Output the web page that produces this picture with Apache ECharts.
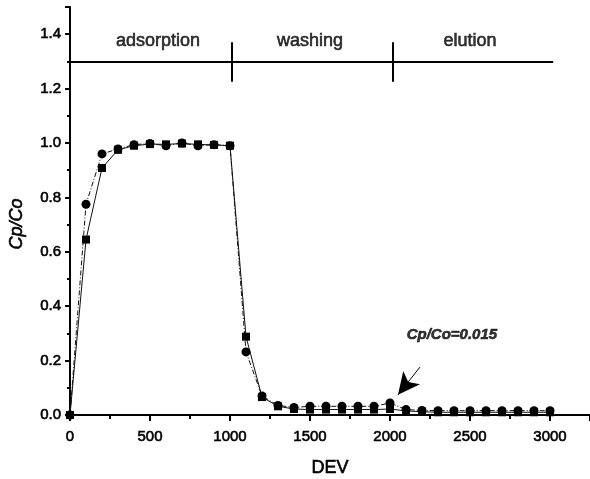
<!DOCTYPE html>
<html>
<head>
<meta charset="utf-8">
<script src="https://cdn.jsdelivr.net/npm/echarts@6/dist/echarts.min.js"></script>
<style>html,body{margin:0;padding:0;background:#fff;}#c{width:590px;height:479px;}</style>
</head>
<body>
<div id="c"></div>
<script>
var xValues = [0,100,200,300,400,500,600,700,800,900,1000,1100,1200,1300,1400,1500,1600,1700,1800,1900,2000,2100,2200,2300,2400,2500,2600,2700,2800,2900,3000];
var squareValues = [0,0.645,0.908,0.975,0.99,0.996,0.995,0.998,0.995,0.993,0.99,0.288,0.066,0.032,0.022,0.02,0.02,0.02,0.02,0.02,0.022,0.015,0.012,0.01,0.01,0.01,0.01,0.01,0.01,0.01,0.01];
var circleValues = [0,0.775,0.96,0.978,0.994,0.998,0.99,1.0,0.99,0.994,0.99,0.232,0.07,0.035,0.028,0.032,0.032,0.032,0.032,0.032,0.044,0.02,0.017,0.016,0.016,0.016,0.016,0.016,0.016,0.016,0.016];
var phaseLabels = ['adsorption','washing','elution'];
var phaseX = [550,1500,2500];
var phaseLabelY = 1.375;
var phaseLineY = 1.3;
var phaseLineEnd = 3020;
var phaseBounds = [1012,2018];
var phaseTickRange = [1.225,1.37];
var noteText = 'Cp/Co=0.015';
var notePos = [2387,0.294];
var arrowFrom = [2187,0.176];
var arrowTo = [2050,0.074];

function pairs(ys){ return xValues.map(function(x,i){ return [x, ys[i]]; }); }

var chart = echarts.init(document.getElementById('c'));
var font = 'Liberation Sans, Arial, sans-serif';
var thick = {textBorderColor:'#000',textBorderWidth:0.6};
var markLineData = [
  [{coord:[0,phaseLineY]},{coord:[phaseLineEnd,phaseLineY]}]
].concat(phaseBounds.map(function(b){ return [{coord:[b,phaseTickRange[0]]},{coord:[b,phaseTickRange[1]]}]; }));

chart.setOption({
  animation:false,
  grid:{left:70,right:0,top:7,bottom:64,outerBoundsMode:'none'},
  xAxis:{
    type:'value',min:0,max:3250,interval:500,
    name:'DEV',nameLocation:'middle',nameGap:44,
    nameTextStyle:Object.assign({fontFamily:font,fontSize:18,color:'#000'},thick),
    axisLine:{lineStyle:{color:'#000',width:2}},
    axisTick:{length:6,lineStyle:{color:'#000',width:2}},
    minorTick:{show:true,splitNumber:2,length:4,lineStyle:{color:'#000',width:2}},
    axisLabel:Object.assign({margin:14,fontFamily:font,fontSize:15,color:'#000',
      formatter:function(v){ return (v%500===0)?String(v):''; }},thick),
    splitLine:{show:false}
  },
  yAxis:{
    type:'value',min:0,max:1.5,interval:0.2,
    name:'Cp/Co',nameLocation:'middle',nameGap:44,
    nameTextStyle:Object.assign({fontFamily:font,fontSize:18,fontStyle:'italic',color:'#000',padding:[0,26,0,0]},thick),
    axisLine:{lineStyle:{color:'#000',width:2}},
    axisTick:{length:5,lineStyle:{color:'#000',width:2}},
    minorTick:{show:true,splitNumber:2,length:3,lineStyle:{color:'#000',width:2}},
    axisLabel:Object.assign({margin:9,fontFamily:font,fontSize:15,color:'#000',
      formatter:function(v){ var r=v/0.2; return Math.abs(r-Math.round(r))<1e-6 ? v.toFixed(1) : ''; }},thick),
    splitLine:{show:false}
  },
  series:[
    {
      type:'line',data:pairs(squareValues),symbol:'rect',symbolSize:8,
      itemStyle:{color:'#000'},lineStyle:{color:'#111',width:1},z:3
    },
    {
      type:'line',data:pairs(circleValues),symbol:'circle',symbolSize:9,
      itemStyle:{color:'#000'},lineStyle:{color:'#111',width:1,type:[5,2,1,2]},z:4
    },
    {
      type:'line',data:[],silent:true,
      markLine:{silent:true,symbol:['none','none'],label:{show:false},
        lineStyle:{color:'#000',width:2,type:'solid'},
        data:markLineData}
    },
    {
      type:'line',data:[],silent:true,
      markLine:{silent:true,symbol:['none','arrow'],symbolSize:[16,22],label:{show:false},
        lineStyle:{color:'#000',width:1,type:'solid'},
        data:[[{coord:arrowFrom},{coord:arrowTo}]]}
    },
    {
      type:'scatter',symbolSize:0,silent:true,
      data:phaseLabels.map(function(t,i){ return {name:t,value:[phaseX[i],phaseLabelY]}; }).concat([{name:noteText,value:notePos,label:{fontSize:15,fontWeight:'bold',fontStyle:'italic'}}]),
      label:Object.assign({show:true,position:'inside',formatter:'{b}',fontFamily:font,fontSize:18,color:'#000'},thick)
    }
  ]
});
</script>
</body>
</html>
